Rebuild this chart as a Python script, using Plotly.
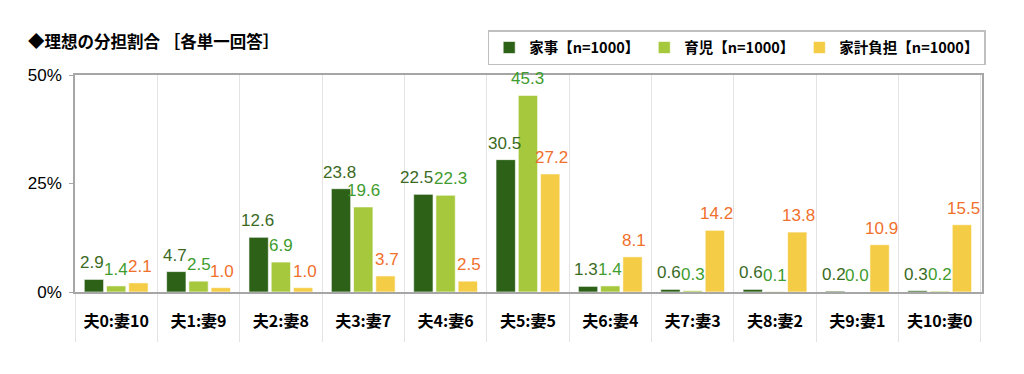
import plotly.graph_objects as go

categories = ["夫0:妻10", "夫1:妻9", "夫2:妻8", "夫3:妻7", "夫4:妻6", "夫5:妻5",
              "夫6:妻4", "夫7:妻3", "夫8:妻2", "夫9:妻1", "夫10:妻0"]
kaji = [2.9, 4.7, 12.6, 23.8, 22.5, 30.5, 1.3, 0.6, 0.6, 0.2, 0.3]
ikuji = [1.4, 2.5, 6.9, 19.6, 22.3, 45.3, 1.4, 0.3, 0.1, 0.0, 0.2]
kakei = [2.1, 1.0, 1.0, 3.7, 2.5, 27.2, 8.1, 14.2, 13.8, 10.9, 15.5]
series_names = ["家事【n=1000】", "育児【n=1000】", "家計負担【n=1000】"]
y_ticks = [0, 25, 50]
y_tick_labels = ["0%", "25%", "50%"]

bar_colors = ["#2c6117", "#a6c83d", "#f5cc46"]
text_colors = ["#3b6a1f", "#3f9c2e", "#f0702c"]

FONT = "Liberation Sans, Arial, Noto Sans CJK JP, sans-serif"
JFONT = "Noto Sans CJK JP, sans-serif"

fig = go.Figure()
annotations = []
label_shift = [-23.8, 0.0, 23.8]  # pixel offset of each series' label within a group
# small label nudges (pixels) where the reference spreads neighbouring labels apart
nudge = {(0, 4): -5, (1, 4): 5}
for k, (name, vals, bc, tc) in enumerate(zip(series_names, [kaji, ikuji, kakei], bar_colors, text_colors)):
    fig.add_trace(go.Bar(
        x=categories, y=vals, name=f"<b>{name}</b>",
        marker=dict(color=bc, line=dict(color="rgba(255,255,255,0.6)", width=1)),
    ))
    for i, (c, v) in enumerate(zip(categories, vals)):
        annotations.append(dict(
            x=c, y=v, xref="x", yref="y", text=f"{v:.1f}", showarrow=False,
            xanchor="center", yanchor="bottom",
            xshift=label_shift[k] + nudge.get((k, i), 0), yshift=5,
            font=dict(color=tc, size=17, family=FONT),
        ))

annotations.append(dict(text="<b>◆理想の分担割合 ［各単一回答］</b>", xref="paper", yref="paper",
                        x=-0.054, y=1.157, xanchor="left", yanchor="middle", showarrow=False,
                        font=dict(size=16.5, family=JFONT, color="#000")))

# page body has an 8px margin; figure sized so the plot area lands where the reference has it
fig.update_layout(
    width=1016, height=366,
    margin=dict(l=67, r=42, t=67, b=82, autoexpand=False),
    paper_bgcolor="white", plot_bgcolor="white",
    barmode="group", bargap=0.19, bargroupgap=0.13,
    font=dict(family=JFONT, color="#000000"),
    showlegend=True,
    legend=dict(orientation="h", x=0.455, y=1.207, xanchor="left", yanchor="top",
                bordercolor="#bfbfbf", borderwidth=1.5, bgcolor="white",
                font=dict(size=14.5, family=JFONT, color="#000"),
                itemwidth=30, traceorder="normal"),
    annotations=annotations,
)
fig.update_yaxes(range=[0, 50], tickvals=y_ticks, ticktext=y_tick_labels,
                 showgrid=False, zeroline=False, automargin=False,
                 showline=True, linecolor="#a6a6a6", linewidth=1.5, mirror=True,
                 ticks="outside", ticklen=4, tickcolor="#a6a6a6", ticklabelstandoff=4,
                 tickfont=dict(size=17, family=FONT, color="#000"))
fig.update_xaxes(showgrid=True, gridcolor="#e3e3e3", gridwidth=1, tickson="boundaries",
                 tickvals=categories, ticktext=[f"<b>{c}</b>" for c in categories],
                 ticks="outside", ticklen=48, tickcolor="#e3e3e3", automargin=False,
                 ticklabelstandoff=14,
                 showline=True, linecolor="#a6a6a6", linewidth=1.5, mirror=True,
                 tickfont=dict(size=16, family=JFONT, color="#000"), tickangle=0)

fig.write_html("out.html")
